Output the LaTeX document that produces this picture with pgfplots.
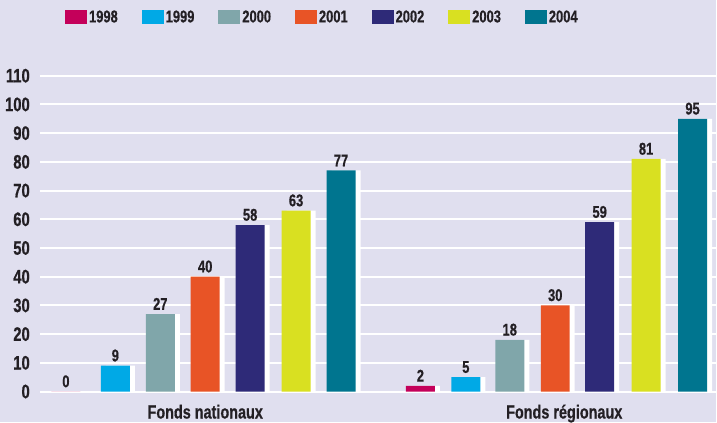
\documentclass[border=0pt]{standalone}
\usepackage{fontspec}
\setmainfont{Liberation Sans}[FakeStretch=0.76, BoldFeatures={FakeBold=0.6}]
\usepackage{pgfplots}
\pgfplotsset{compat=1.18}
\definecolor{bg}{RGB}{224,223,239}
\definecolor{tc}{RGB}{35,31,36}
\definecolor{c98}{RGB}{196,0,90}
\definecolor{c99}{RGB}{0,169,230}
\definecolor{c00}{RGB}{128,166,170}
\definecolor{c01}{RGB}{232,84,38}
\definecolor{c02}{RGB}{46,42,120}
\definecolor{c03}{RGB}{217,224,33}
\definecolor{c04}{RGB}{0,117,143}
\pgfplotsset{
  sq legend/.style={legend image code/.code={\fill[##1] (0pt,-7pt) rectangle (22pt,7pt);}},
  shadow/.style={ybar, bar width=29, bar shift=5, fill=white, draw=none, forget plot},
  colbar/.style={ybar, bar width=29, bar shift=0, fill=#1, draw=none, sq legend, nodes near coords},
}
\begin{document}
\begin{tikzpicture}[x=1pt,y=1pt]
\fill[bg] (0,0) rectangle (717,422);
\begin{axis}[
  at={(40pt,30pt)}, anchor=south west,
  scale only axis, width=677pt, height=392pt,
  xmin=40, xmax=717, ymin=0, ymax=136.3478,
  clip=false,
  axis line style={draw=none},
  ytick={0,10,...,110},
  xtick={205.5,565},
  xticklabels={Fonds nationaux, Fonds régionaux},
  major tick length=0pt,
  ymajorgrids,
  major grid style={white, line width=2pt},
  /pgf/number format/assume math mode=true,
  yticklabel style={font=\fontsize{19.5}{19.5}\selectfont\bfseries, anchor=east, inner sep=0pt, xshift=-10pt, text=tc},
  xticklabel style={font=\fontsize{19}{19}\selectfont\bfseries, anchor=base, yshift=-27pt, inner sep=0pt, text=tc},
  every node near coord/.append style={font=\fontsize{17}{17}\selectfont\bfseries, text=tc, anchor=south, inner sep=0pt, yshift=4pt},
  legend columns=7,
  legend cell align=left,
  legend style={at={(axis cs:65,130.4)}, anchor=west, draw=none, fill=none, inner sep=0pt,
    font=\fontsize{17}{17}\selectfont\bfseries, text=tc,
    /tikz/every even column/.append style={column sep=22pt}},
]
\addplot[shadow] coordinates {(66,0) (421,2)};
\addplot[colbar=c98] coordinates {(66,0) (421,2)};
\addlegendentry{1998}
\addplot[shadow] coordinates {(115.5,9) (466.5,5)};
\addplot[colbar=c99] coordinates {(115.5,9) (466.5,5)};
\addlegendentry{1999}
\addplot[shadow] coordinates {(160.5,27) (510.5,18)};
\addplot[colbar=c00] coordinates {(160.5,27) (510.5,18)};
\addlegendentry{2000}
\addplot[shadow] coordinates {(205.5,40) (556,30)};
\addplot[colbar=c01] coordinates {(205.5,40) (556,30)};
\addlegendentry{2001}
\addplot[shadow] coordinates {(250.5,58) (600.5,59)};
\addplot[colbar=c02] coordinates {(250.5,58) (600.5,59)};
\addlegendentry{2002}
\addplot[shadow] coordinates {(296.5,63) (647,81)};
\addplot[colbar=c03] coordinates {(296.5,63) (647,81)};
\addlegendentry{2003}
\addplot[shadow] coordinates {(341.5,77) (693.5,95)};
\addplot[colbar=c04] coordinates {(341.5,77) (693.5,95)};
\addlegendentry{2004}
\end{axis}
\end{tikzpicture}
\end{document}
